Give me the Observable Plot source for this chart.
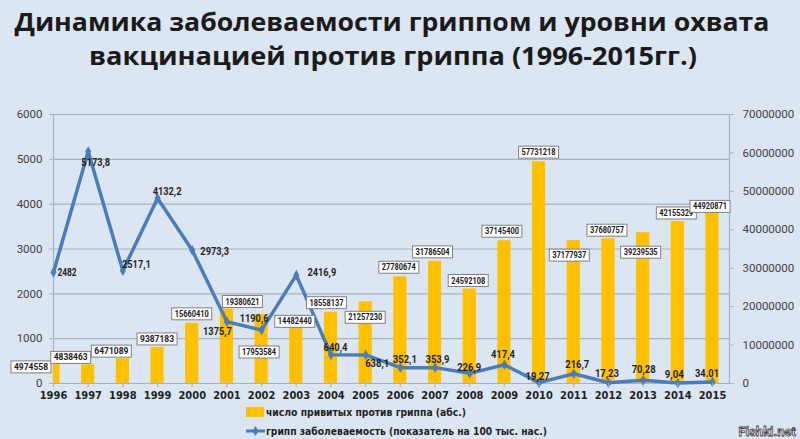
<!DOCTYPE html>
<html>
<head>
<meta charset="utf-8">
<script src="https://cdn.jsdelivr.net/npm/d3@7"></script>
<script src="https://cdn.jsdelivr.net/npm/@observablehq/plot@0.6"></script>
<style>
  html, body { margin: 0; padding: 0; background: #dce6f2; }
  #wrap { position: relative; width: 800px; height: 439px; overflow: hidden; background: #dce6f2; }
  #title { position: absolute; left: 0; top: 0; }
  #chart { position: absolute; left: 0; top: 96px; }
  #legend { position: absolute; left: 0; top: 400px; }
</style>
</head>
<body>
<div id="wrap">
  <svg id="title" width="800" height="96"></svg>
  <div id="chart"></div>
  <svg id="legend" width="800" height="39"></svg>
</div>
<script>
// ---- data ----
const years = [1996, 1997, 1998, 1999, 2000, 2001, 2002, 2003, 2004, 2005, 2006, 2007, 2008, 2009, 2010, 2011, 2012, 2013, 2014, 2015];
const vaccinated = [4974558, 4838463, 6471089, 9387183, 15660410, 19380621, 17953584, 14482440, 18558137, 21257230, 27780674, 31786504, 24592108, 37145400, 57731218, 37177937, 37680757, 39239535, 42155329, 44920871];
const incidence = [2482, 5173.8, 2517.1, 4132.2, 2973.3, 1375.7, 1190.6, 2416.9, 640.4, 638.1, 352.1, 353.9, 226.9, 417.4, 19.27, 216.7, 17.23, 70.28, 9.04, 34.01];
const incidenceLabels = ["2482", "5173,8", "2517,1", "4132,2", "2973,3", "1375,7", "1190,6", "2416,9", "640,4", "638,1", "352,1", "353,9", "226,9", "417,4", "19,27", "216,7", "17,23", "70,28", "9,04", "34.01"];
const leftTicks = [0, 1000, 2000, 3000, 4000, 5000, 6000];
const rightTicks = [0, 10000000, 20000000, 30000000, 40000000, 50000000, 60000000, 70000000];
const titleLines = ["Динамика заболеваемости гриппом и уровни охвата", "вакцинацией против гриппа (1996-2015гг.)"];
const legendBars = "число привитых против гриппа (абс.)";
const legendLine = "грипп заболеваемость (показатель на 100 тыс. нас.)";

// label placement nudges (pixels) — layout only
const barLabelDx = [-22, -17, -11, 0, 0, 16, -2, -1, -4, 0, -1, -2, -1, -2, 0, -4, -1, -2, -1, -2];
const barLabelDy = [3, -7, -7, -8, -9, -7, 38, -6, -9, 16, -9, -9, -8, -9, -9, 15, -8, 20, -8, -4];
const lineLabelDx = [14, 8, 14, 10, 23, -9, -7, 26, 5, 12, 5, 3, 0, -1, -1, 4, -1, 1, -3, -5];
const lineLabelDy = [0, 11, -6, -7, 1, 10, -12, -3, -7, 9, -8, -8, -6, -10, -6, -9, -9, -11, -9, -8];

// ---- styles ----
const BAR = "#ffc000";
const LINE = "#4a7cb8";
const GRID = "#a7b2c0";
const NARROW = "'Liberation Sans Narrow', 'DejaVu Sans Condensed', Roboto, sans-serif";
const k = 6000 / 70000000; // right-axis units -> left-axis units

const rows = years.map((year, i) => ({
  year, vacc: vaccinated[i], vy: vaccinated[i] * k, inc: incidence[i],
  vaccLabel: String(vaccinated[i]), incLabel: incidenceLabels[i],
  bdx: barLabelDx[i], bdy: barLabelDy[i], ldx: lineLabelDx[i], ldy: lineLabelDy[i]
}));

function offsetLabels(data, yField, textField, dxField, dyField, boxed) {
  return Plot.text(data, {
    x: "year", y: yField, text: textField,
    render(index, scales, values) {
      const g = d3.create("svg:g");
      for (const i of index) {
        const d = data[i];
        const cx = values.x[i] + d[dxField];
        const cy = values.y[i] + d[dyField];
        if (boxed) {
          const w = 40, h = 12;
          g.append("rect").attr("x", cx - w / 2).attr("y", cy - h / 2)
            .attr("width", w).attr("height", h)
            .attr("fill", "#ffffff").attr("stroke", "#7f7f7f").attr("stroke-width", 1);
          g.append("text").attr("x", cx).attr("y", cy).attr("dy", "0.36em")
            .attr("text-anchor", "middle").attr("font-family", "Roboto, sans-serif")
            .attr("font-weight", "bold").attr("font-size", 8.5).attr("fill", "#1a1a1a")
            .attr("textLength", 34).attr("lengthAdjust", "spacingAndGlyphs")
            .text(d[textField]);
        } else {
          const s = String(d[textField]);
          g.append("text").attr("x", cx).attr("y", cy).attr("dy", "0.36em")
            .attr("text-anchor", "middle").attr("font-family", "Roboto, sans-serif")
            .attr("font-weight", "bold").attr("font-size", 11).attr("fill", "#1f1f1f")
            .attr("textLength", s.length * 4.8).attr("lengthAdjust", "spacingAndGlyphs")
            .text(s);
        }
      }
      return g.node();
    }
  });
}

const chart = Plot.plot({
  width: 800,
  height: 312,
  marginTop: 18,
  marginBottom: 25,
  marginLeft: 53,
  marginRight: 71,
  x: { type: "linear", domain: [1996, 2015.49] },
  y: { domain: [0, 6000], label: null },
  style: { background: "transparent", fontFamily: "Roboto, sans-serif", color: "#404040", overflow: "visible" },
  marks: [
    Plot.gridY(leftTicks, { stroke: GRID, strokeOpacity: 1, strokeWidth: 1.2 }),
    Plot.frame({ anchor: "left", stroke: GRID, strokeWidth: 1.2 }),
    Plot.frame({ anchor: "right", stroke: GRID, strokeWidth: 1.2 }),
    Plot.rectY(rows, { x1: d => d.year - 0.19, x2: d => d.year + 0.19, y1: 0, y2: "vy", fill: BAR, clip: true }),
    Plot.line(rows, { x: "year", y: "inc", stroke: LINE, strokeWidth: 3.5, strokeLinejoin: "round" }),
    Plot.dot(rows, { x: "year", y: "inc", symbol: "diamond", r: 3.2, fill: LINE, stroke: "none" }),
    offsetLabels(rows, "vy", "vaccLabel", "bdx", "bdy", true),
    offsetLabels(rows, "inc", "incLabel", "ldx", "ldy", false),
    Plot.axisY(leftTicks, { anchor: "left", tickSize: 4, tickPadding: 7, stroke: GRID, fontSize: 11.5, fill: "#404040", label: null, tickFormat: d => String(d) }),
    Plot.axisY(rightTicks.map(d => d * k), { anchor: "right", tickSize: 4, tickPadding: 9, stroke: GRID, fontSize: 11.5, fill: "#404040", label: null, tickFormat: d => String(Math.round(d / k)) }),
    Plot.axisX(years, { anchor: "bottom", tickSize: 4, tickPadding: 4, stroke: GRID, fontSize: 11, fontWeight: "bold", fontFamily: NARROW, fill: "#1f1f1f", label: null, tickFormat: d => String(d) })
  ]
});
document.getElementById("chart").appendChild(chart);

// ---- title ----
const title = d3.select("#title");
title.append("text").attr("x", 392).attr("y", 31).attr("text-anchor", "middle")
  .attr("font-family", "'Open Sans', 'Noto Sans', sans-serif").attr("font-weight", "bold")
  .attr("font-size", 25.5).attr("fill", "#1a1a1a")
  .attr("textLength", 755).attr("lengthAdjust", "spacingAndGlyphs").text(titleLines[0]);
title.append("text").attr("x", 393).attr("y", 65).attr("text-anchor", "middle")
  .attr("font-family", "'Open Sans', 'Noto Sans', sans-serif").attr("font-weight", "bold")
  .attr("font-size", 25.5).attr("fill", "#1a1a1a")
  .attr("textLength", 608).attr("lengthAdjust", "spacingAndGlyphs").text(titleLines[1]);

// ---- legend ----
const legend = d3.select("#legend");
legend.append("rect").attr("x", 246).attr("y", 7).attr("width", 18).attr("height", 10).attr("fill", BAR);
legend.append("text").attr("x", 266).attr("y", 15.5).attr("font-family", NARROW).attr("font-weight", "bold")
  .attr("font-size", 11).attr("fill", "#1f1f1f").attr("textLength", 200).attr("lengthAdjust", "spacingAndGlyphs").text(legendBars);
legend.append("line").attr("x1", 246).attr("x2", 265).attr("y1", 31).attr("y2", 31).attr("stroke", LINE).attr("stroke-width", 3);
legend.append("path").attr("d", d3.symbol(d3.symbolDiamond, 30)()).attr("transform", "translate(255.5,31)").attr("fill", LINE);
legend.append("text").attr("x", 266).attr("y", 35).attr("font-family", NARROW).attr("font-weight", "bold")
  .attr("font-size", 11).attr("fill", "#1f1f1f").attr("textLength", 281).attr("lengthAdjust", "spacingAndGlyphs").text(legendLine);
legend.append("text").attr("x", 796).attr("y", 36).attr("text-anchor", "end").attr("font-family", "Roboto, sans-serif")
  .attr("font-weight", "bold").attr("font-size", 13).attr("fill", "#ffffff").attr("stroke", "#444444")
  .attr("stroke-width", 0.8).text("Fishki.net");
</script>
</body>
</html>
